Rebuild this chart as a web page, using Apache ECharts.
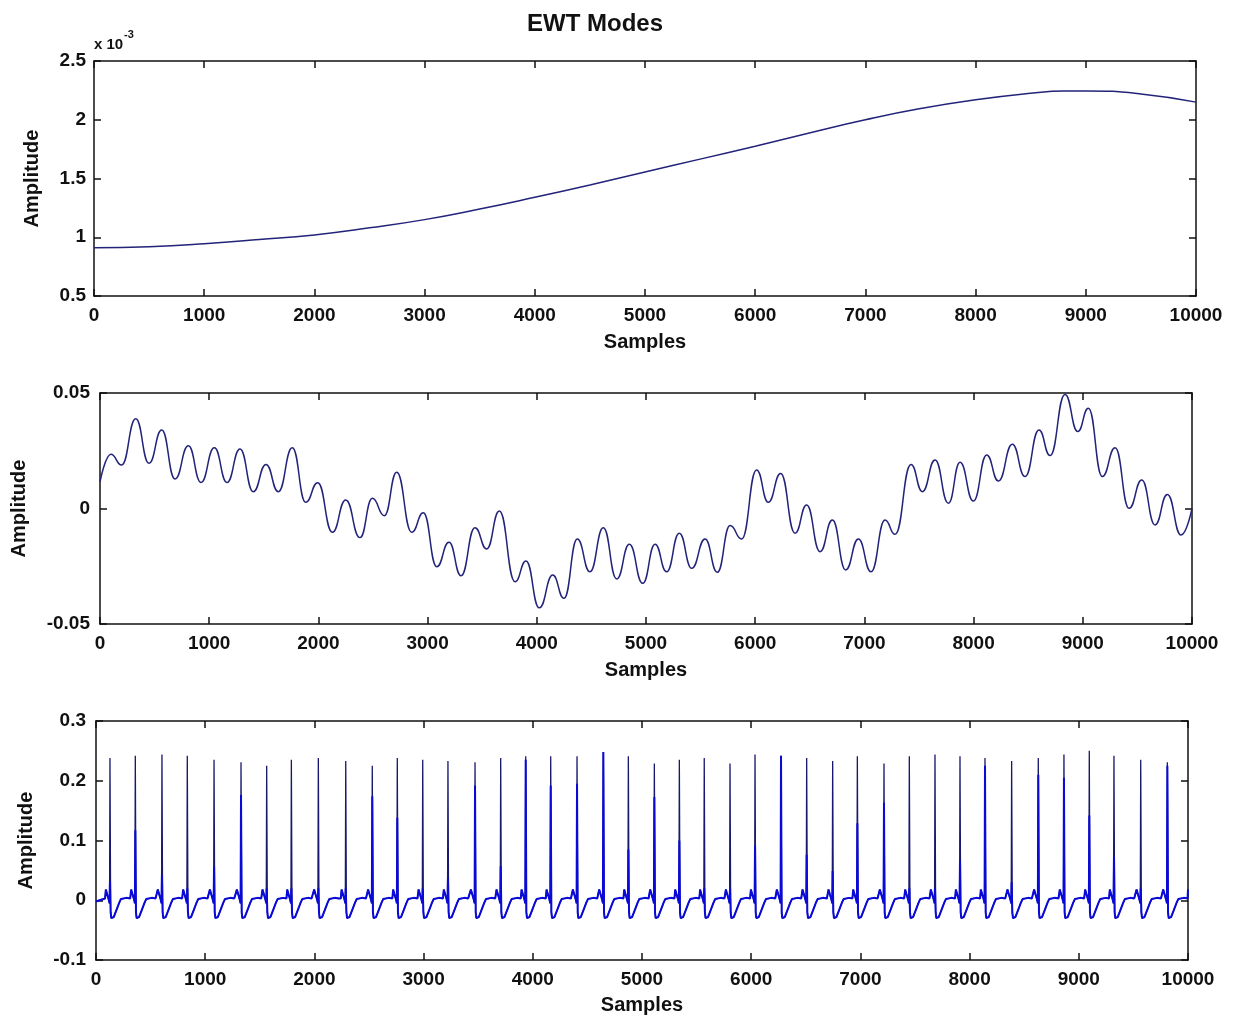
<!DOCTYPE html>
<html>
<head>
<meta charset="utf-8">
<title>EWT Modes</title>
<script src="https://cdn.jsdelivr.net/npm/echarts@6.0.0/dist/echarts.min.js"></script>
<style>
	html, body { margin: 0; padding: 0; background: #fff; }
	#chart { width: 1239px; height: 1021px; }
</style>
</head>
<body>
<div id="chart"></div>
<script>
// x axis shared by the three modes: [min, max, interval]
var xRange = [0, 10000, 1000];

// mode 1 : slow trend (values in real units, axis shows them x 10^-3)
var mode1X = [0, 500, 1000, 1500, 2000, 2500, 3000, 3500, 4000, 4500, 5000, 5500, 6000, 6500, 7000, 7500, 8000, 8500, 8800, 9000, 9500, 10000];
var mode1Y = [0.00091, 0.00092, 0.000945, 0.00098, 0.00102, 0.00108, 0.00115, 0.00124, 0.00134, 0.001445, 0.001555, 0.001665, 0.001775, 0.00189, 0.002, 0.002095, 0.00217, 0.002225, 0.002245, 0.002245, 0.00222, 0.00215];
var mode1Range = [0.0005, 0.0025, 0.0005];

// mode 2 : peaks and troughs of the oscillation
var mode2X = [0, 100, 198, 327, 449, 565, 687, 809, 925, 1047, 1163, 1282, 1404, 1520, 1633, 1761, 1884, 1994, 2128, 2250, 2381, 2494, 2604, 2717, 2855, 2961, 3084, 3196, 3306, 3434, 3541, 3657, 3801, 3901, 4023, 4146, 4249, 4371, 4487, 4609, 4732, 4848, 4970, 5083, 5189, 5305, 5419, 5541, 5653, 5770, 5876, 6013, 6120, 6233, 6365, 6471, 6594, 6707, 6829, 6945, 7061, 7189, 7281, 7427, 7531, 7647, 7769, 7876, 7998, 8120, 8227, 8355, 8471, 8599, 8700, 8837, 8954, 9051, 9179, 9296, 9424, 9540, 9662, 9774, 9900, 10000];
var mode2Y = [0.0115, 0.0235, 0.0188, 0.0388, 0.0196, 0.034, 0.0128, 0.0272, 0.0113, 0.0263, 0.0113, 0.0258, 0.0073, 0.0191, 0.0073, 0.0263, 0.0027, 0.0112, -0.0103, 0.0037, -0.0126, 0.0044, -0.0031, 0.0157, -0.0103, -0.0018, -0.0252, -0.0146, -0.0291, -0.0083, -0.0175, -0.0011, -0.0317, -0.0227, -0.043, -0.0288, -0.0389, -0.0132, -0.0274, -0.0083, -0.0305, -0.0155, -0.0324, -0.0155, -0.0274, -0.0107, -0.0259, -0.0132, -0.0276, -0.0074, -0.0132, 0.0167, 0.0027, 0.0152, -0.0107, 0.0015, -0.0187, -0.005, -0.0266, -0.0132, -0.0274, -0.005, -0.0112, 0.0191, 0.0073, 0.021, 0.0023, 0.02, 0.0032, 0.0232, 0.0119, 0.0278, 0.0138, 0.034, 0.0229, 0.0494, 0.0333, 0.0434, 0.0138, 0.0263, 0.0001, 0.0123, -0.0071, 0.0061, -0.0115, 0.0];
var mode2Range = [-0.05, 0.05, 0.05];

// mode 3 : heart beats, one spike per beat
var spikeX = [128, 360, 604, 836, 1081, 1328, 1563, 1789, 2036, 2287, 2530, 2759, 2992, 3223, 3471, 3706, 3935, 4164, 4405, 4646, 4875, 5113, 5342, 5570, 5806, 6035, 6273, 6508, 6746, 6972, 7216, 7448, 7683, 7912, 8141, 8385, 8629, 8864, 9096, 9322, 9567, 9811];
var spikeTop = [0.238, 0.242, 0.244, 0.242, 0.235, 0.231, 0.225, 0.235, 0.238, 0.233, 0.225, 0.238, 0.235, 0.233, 0.231, 0.238, 0.241, 0.241, 0.241, 0.248, 0.241, 0.229, 0.235, 0.238, 0.229, 0.244, 0.242, 0.238, 0.233, 0.241, 0.229, 0.241, 0.244, 0.241, 0.238, 0.233, 0.238, 0.244, 0.25, 0.242, 0.235, 0.231];
// height of the thick (bright blue) lower part of each spike
var spikeInner = [0.032, 0.117, 0.042, 0.02, 0.057, 0.176, 0.02, 0.02, 0.02, 0.02, 0.174, 0.138, 0.02, 0.037, 0.192, 0.057, 0.235, 0.192, 0.195, 0.248, 0.085, 0.173, 0.1, 0.02, 0.02, 0.091, 0.242, 0.076, 0.049, 0.129, 0.163, 0.02, 0.02, 0.067, 0.225, 0.03, 0.21, 0.205, 0.142, 0.073, 0.02, 0.225];
// shape of one beat around its spike (offset in samples, level); offset 0 is the spike
var beatOffset = [-45, -38, -20, -10, -4, 0, 6, 12, 35, 60, 85, 100, 150, 185];
var beatLevel = [0.003, 0.018, 0.016, 0.0, -0.005, 0, -0.02, -0.03, -0.028, -0.016, -0.004, 0.002, 0.004, 0.003];
var mode3Ends = [-0.002, 0.018];
var mode3Range = [-0.1, 0.3, 0.1];

var font = 'Liberation Sans, Arial, Helvetica, sans-serif';
var ink = '#111';

function pairs(xs, ys) {
	var out = [];
	for (var i = 0; i < xs.length && i < ys.length; i++) {
		out.push([xs[i], ys[i]]);
	}
	return out;
}

function beats(tops) {
	var out = [[0, mode3Ends[0]]];
	for (var i = 0; i < spikeX.length; i++) {
		var next = i + 1 < spikeX.length ? spikeX[i + 1] + beatOffset[0] : xRange[1];
		for (var j = 0; j < beatOffset.length; j++) {
			var s = spikeX[i] + beatOffset[j];
			if (beatOffset[j] > 0 && s >= next) {
				break;
			}
			out.push([s, beatOffset[j] === 0 ? tops[i] : beatLevel[j]]);
		}
	}
	out.push([xRange[1], mode3Ends[1]]);
	return out;
}

function lineStyle() {
	return { color: ink, width: 1.5 };
}

function xAxes(g, gap) {
	var bottom = {
		gridIndex : g,
		type : 'value',
		min : xRange[0],
		max : xRange[1],
		interval : xRange[2],
		name : 'Samples',
		nameLocation : 'middle',
		nameGap : gap,
		nameMoveOverlap : false,
		nameTextStyle : { fontFamily : font, fontWeight : 'bold', fontSize : 20, color : ink, verticalAlign : 'top' },
		axisLine : { show : true, onZero : false, lineStyle : lineStyle() },
		axisTick : { show : true, inside : true, length : 7, lineStyle : lineStyle() },
		axisLabel : { margin : 10, fontFamily : font, fontWeight : 'bold', fontSize : 19, color : ink, formatter : function(v) {
			return String(v);
		} },
		splitLine : { show : false }
	};
	var top = {
		gridIndex : g,
		type : 'value',
		position : 'top',
		min : xRange[0],
		max : xRange[1],
		interval : xRange[2],
		axisLine : { show : true, onZero : false, lineStyle : lineStyle() },
		axisTick : { show : true, inside : true, length : 7, lineStyle : lineStyle() },
		axisLabel : { show : false },
		splitLine : { show : false }
	};
	return [bottom, top];
}

function yAxes(g, range, gap, margin, formatter) {
	var left = {
		gridIndex : g,
		type : 'value',
		min : range[0],
		max : range[1],
		interval : range[2],
		name : 'Amplitude',
		nameLocation : 'middle',
		nameGap : gap,
		nameMoveOverlap : false,
		nameTextStyle : { fontFamily : font, fontWeight : 'bold', fontSize : 20, color : ink },
		axisLine : { show : true, onZero : false, lineStyle : lineStyle() },
		axisTick : { show : true, inside : true, length : 7, lineStyle : lineStyle() },
		axisLabel : { margin : margin, fontFamily : font, fontWeight : 'bold', fontSize : 19, color : ink, formatter : formatter },
		splitLine : { show : false }
	};
	var right = {
		gridIndex : g,
		type : 'value',
		position : 'right',
		min : range[0],
		max : range[1],
		interval : range[2],
		axisLine : { show : true, onZero : false, lineStyle : lineStyle() },
		axisTick : { show : true, inside : true, length : 7, lineStyle : lineStyle() },
		axisLabel : { show : false },
		splitLine : { show : false }
	};
	return [left, right];
}

var xAxis = [].concat(xAxes(0, 36), xAxes(1, 36), xAxes(2, 35));
var yAxis = [].concat(
	yAxes(0, mode1Range, 52, 8, function(v) {
		return String(Math.round(v * 10000) / 10);
	}),
	yAxes(1, mode2Range, 71, 10),
	yAxes(2, mode3Range, 60, 10, function(v) {
		return String(Math.round(v * 10) / 10);
	})
);

var options = {
	animation : false,
	backgroundColor : '#fff',
	title : {
		text : 'EWT Modes',
		left : 522,
		top : 7,
		textStyle : { fontFamily : font, fontWeight : 'bold', fontSize : 24, color : ink }
	},
	graphic : [ {
		type : 'text',
		left : 94,
		top : 37,
		style : { text : 'x 10', fontFamily : font, fontWeight : 'bold', fontSize : 15, fill : ink }
	}, {
		type : 'text',
		left : 124,
		top : 29,
		style : { text : '-3', fontFamily : font, fontWeight : 'bold', fontSize : 11, fill : ink }
	} ],
	grid : [
		{ left : 94, top : 61, width : 1102, height : 235, outerBoundsMode : 'none' },
		{ left : 100, top : 393, width : 1092, height : 231, outerBoundsMode : 'none' },
		{ left : 96, top : 721, width : 1092, height : 239, outerBoundsMode : 'none' }
	],
	xAxis : xAxis,
	yAxis : yAxis,
	series : [ {
		type : 'line',
		xAxisIndex : 0,
		yAxisIndex : 0,
		data : pairs(mode1X, mode1Y),
		smooth : true,
		showSymbol : false,
		lineStyle : { color : '#23237a', width : 1.5 }
	}, {
		type : 'line',
		xAxisIndex : 2,
		yAxisIndex : 2,
		data : pairs(mode2X, mode2Y),
		smooth : 0.5,
		smoothMonotone : 'x',
		showSymbol : false,
		lineStyle : { color : '#23237a', width : 1.5 }
	}, {
		type : 'line',
		xAxisIndex : 4,
		yAxisIndex : 4,
		data : beats(spikeTop),
		showSymbol : false,
		lineStyle : { color : '#18186e', width : 1.3 }
	}, {
		type : 'line',
		xAxisIndex : 4,
		yAxisIndex : 4,
		data : beats(spikeInner),
		showSymbol : false,
		lineStyle : { color : '#0a0ad8', width : 2 }
	} ]
};

var chart = echarts.init(document.getElementById('chart'));
chart.setOption(options);
</script>
</body>
</html>
